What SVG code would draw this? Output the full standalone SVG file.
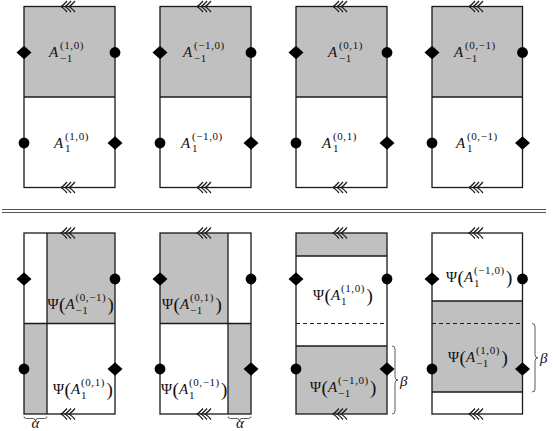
<svg xmlns="http://www.w3.org/2000/svg" xmlns:xlink="http://www.w3.org/1999/xlink" width="553" height="431" viewBox="0 0 553 431">
<defs>
<style>
.ln{stroke:#1a1a1a;stroke-width:1.3;fill:none}
.gr{fill:#c0c0c0}
.wh{fill:#fff}
.mk{fill:#000}
.m{font-family:"Liberation Serif","Times New Roman",serif;font-size:15px;fill:#111}
.i{font-style:italic}
.sc{font-family:"Liberation Serif","Times New Roman",serif;font-size:11px;fill:#111;letter-spacing:0.6px}
.bp{font-family:"Liberation Serif","Times New Roman",serif;font-size:19px;fill:#111}
.br{stroke:#333;stroke-width:0.8;fill:none}
.dash{stroke:#1a1a1a;stroke-width:1;stroke-dasharray:4 3;fill:none}
.sep{stroke:#555;stroke-width:1.1}
</style>
<path id="chev" fill="none" stroke="#1a1a1a" stroke-width="1.2" d="M-2.5-5.5Q-6.5-1-8.5 0Q-6.5 1-2.5 5.5M1.5-5.5Q-2.5-1-4.5 0Q-2.5 1 1.5 5.5M5.5-5.5Q1.5-1-0.5 0Q1.5 1 5.5 5.5"/>
<path id="dia" d="M-7.5 0L0-6.8L7.5 0L0 6.8Z" fill="#000"/>
<circle id="dot" r="5.4" fill="#000"/>
</defs>
<rect width="553" height="431" fill="#fff"/>

<!-- TOP ROW -->
<g id="top1">
<rect class="gr" x="24" y="6.5" width="91" height="90.5"/>
<rect class="ln" x="24" y="6.5" width="91" height="181"/>
<line class="ln" x1="24" y1="97" x2="115" y2="97"/>
<use xlink:href="#chev" x="69.5" y="6.5"/><use xlink:href="#chev" x="69.5" y="187.5"/>
<use xlink:href="#dia" x="24" y="52.5"/><use xlink:href="#dot" x="115" y="52.5"/>
<use xlink:href="#dot" x="24" y="143"/><use xlink:href="#dia" x="115" y="143"/>
<text class="m i" x="49" y="57">A</text><text class="sc" x="60" y="48.5">(1,0)</text><text class="sc" x="60" y="62">−1</text>
<text class="m i" x="54" y="148">A</text><text class="sc" x="65" y="139.5">(1,0)</text><text class="sc" x="65" y="152">1</text>
</g>
<g id="top2">
<rect class="gr" x="160" y="6.5" width="91" height="90.5"/>
<rect class="ln" x="160" y="6.5" width="91" height="181"/>
<line class="ln" x1="160" y1="97" x2="251" y2="97"/>
<use xlink:href="#chev" x="205.5" y="6.5"/><use xlink:href="#chev" x="205.5" y="187.5"/>
<use xlink:href="#dia" x="160" y="52.5"/><use xlink:href="#dot" x="251" y="52.5"/>
<use xlink:href="#dot" x="160" y="143"/><use xlink:href="#dia" x="251" y="143"/>
<text class="m i" x="183" y="57">A</text><text class="sc" x="194" y="48.5">(−1,0)</text><text class="sc" x="194" y="62">−1</text>
<text class="m i" x="181" y="148">A</text><text class="sc" x="192" y="139.5">(−1,0)</text><text class="sc" x="192" y="152">1</text>
</g>
<g id="top3">
<rect class="gr" x="296" y="6.5" width="91" height="90.5"/>
<rect class="ln" x="296" y="6.5" width="91" height="181"/>
<line class="ln" x1="296" y1="97" x2="387" y2="97"/>
<use xlink:href="#chev" x="341.5" y="6.5"/><use xlink:href="#chev" x="341.5" y="187.5"/>
<use xlink:href="#dia" x="296" y="52.5"/><use xlink:href="#dot" x="387" y="52.5"/>
<use xlink:href="#dot" x="296" y="143"/><use xlink:href="#dia" x="387" y="143"/>
<text class="m i" x="328" y="57">A</text><text class="sc" x="339" y="48.5">(0,1)</text><text class="sc" x="339" y="62">−1</text>
<text class="m i" x="322" y="148">A</text><text class="sc" x="333" y="139.5">(0,1)</text><text class="sc" x="333" y="152">1</text>
</g>
<g id="top4">
<rect class="gr" x="432" y="6.5" width="90.5" height="90.5"/>
<rect class="ln" x="432" y="6.5" width="90.5" height="181"/>
<line class="ln" x1="432" y1="97" x2="522.5" y2="97"/>
<use xlink:href="#chev" x="477.5" y="6.5"/><use xlink:href="#chev" x="477.5" y="187.5"/>
<use xlink:href="#dia" x="432" y="52.5"/><use xlink:href="#dot" x="522.5" y="52.5"/>
<use xlink:href="#dot" x="432" y="143"/><use xlink:href="#dia" x="522.5" y="143"/>
<text class="m i" x="454" y="57">A</text><text class="sc" x="465" y="48.5">(0,−1)</text><text class="sc" x="465" y="62">−1</text>
<text class="m i" x="456" y="148">A</text><text class="sc" x="467" y="139.5">(0,−1)</text><text class="sc" x="467" y="152">1</text>
</g>

<g id="separator">
<line class="sep" x1="2" y1="209.5" x2="546" y2="209.5"/>
<line class="sep" x1="2" y1="212.5" x2="546" y2="212.5"/>
</g>

<!-- BOTTOM ROW -->
<g id="bot1">
<rect class="gr" x="47" y="233" width="68" height="90.5"/>
<rect class="gr" x="24" y="323.5" width="23" height="90.5"/>
<rect class="ln" x="24" y="233" width="91" height="181"/>
<line class="ln" x1="24" y1="323.5" x2="115" y2="323.5"/>
<line class="ln" x1="47" y1="233" x2="47" y2="414"/>
<use xlink:href="#chev" x="69.5" y="233"/><use xlink:href="#chev" x="69.5" y="414"/>
<use xlink:href="#dia" x="24" y="279"/><use xlink:href="#dot" x="115" y="279"/>
<use xlink:href="#dot" x="24" y="369"/><use xlink:href="#dia" x="115" y="369"/>
<text class="m" x="47.5" y="309">Ψ</text><text class="bp" x="59" y="310.5">(</text><text class="m i" x="65.5" y="309">A</text><text class="sc" x="75.5" y="300.5">(0,−1)</text><text class="sc" x="75.5" y="314">−1</text><text class="bp" x="107.5" y="310.5">)</text>
<text class="m" x="53" y="394">Ψ</text><text class="bp" x="64.5" y="395.5">(</text><text class="m i" x="71" y="394">A</text><text class="sc" x="81" y="385.5">(0,1)</text><text class="sc" x="81" y="399">1</text><text class="bp" x="106.5" y="395.5">)</text>
<path class="br" d="M24 416.5Q24 418.5 26.5 418.5L33 418.5Q35.5 418.5 35.5 421Q35.5 418.5 38 418.5L44.5 418.5Q47 418.5 47 416.5"/>
<text class="m i" x="35.5" y="427.5" text-anchor="middle">α</text>
</g>
<g id="bot2">
<rect class="gr" x="160" y="233" width="68" height="90.5"/>
<rect class="gr" x="228" y="323.5" width="23" height="90.5"/>
<rect class="ln" x="160" y="233" width="91" height="181"/>
<line class="ln" x1="160" y1="323.5" x2="251" y2="323.5"/>
<line class="ln" x1="228" y1="233" x2="228" y2="414"/>
<use xlink:href="#chev" x="205.5" y="233"/><use xlink:href="#chev" x="205.5" y="414"/>
<use xlink:href="#dia" x="160" y="279"/><use xlink:href="#dot" x="251" y="279"/>
<use xlink:href="#dot" x="160" y="369"/><use xlink:href="#dia" x="251" y="369"/>
<text class="m" x="162" y="309">Ψ</text><text class="bp" x="173.5" y="310.5">(</text><text class="m i" x="180" y="309">A</text><text class="sc" x="190" y="300.5">(0,1)</text><text class="sc" x="190" y="314">−1</text><text class="bp" x="215.5" y="310.5">)</text>
<text class="m" x="161" y="394">Ψ</text><text class="bp" x="172.5" y="395.5">(</text><text class="m i" x="179" y="394">A</text><text class="sc" x="189" y="385.5">(0,−1)</text><text class="sc" x="189" y="399">1</text><text class="bp" x="221" y="395.5">)</text>
<path class="br" d="M228 416.5Q228 418.5 230.5 418.5L237 418.5Q239.5 418.5 239.5 421Q239.5 418.5 242 418.5L248.5 418.5Q251 418.5 251 416.5"/>
<text class="m i" x="240" y="427.5" text-anchor="middle">α</text>
</g>
<g id="bot3">
<rect class="gr" x="296" y="233" width="91" height="23"/>
<rect class="gr" x="296" y="346" width="91" height="68"/>
<rect class="ln" x="296" y="233" width="91" height="181"/>
<line class="ln" x1="296" y1="256" x2="387" y2="256"/>
<line class="ln" x1="296" y1="346" x2="387" y2="346"/>
<line class="dash" x1="296" y1="323.5" x2="387" y2="323.5"/>
<use xlink:href="#chev" x="341.5" y="233"/><use xlink:href="#chev" x="341.5" y="414"/>
<use xlink:href="#dia" x="296" y="279"/><use xlink:href="#dot" x="387" y="279"/>
<use xlink:href="#dot" x="296" y="369"/><use xlink:href="#dia" x="387" y="369"/>
<text class="m" x="313" y="300">Ψ</text><text class="bp" x="324.5" y="301.5">(</text><text class="m i" x="331" y="300">A</text><text class="sc" x="341" y="291.5">(1,0)</text><text class="sc" x="341" y="305">1</text><text class="bp" x="366.5" y="301.5">)</text>
<text class="m" x="310" y="392">Ψ</text><text class="bp" x="321.5" y="393.5">(</text><text class="m i" x="328" y="392">A</text><text class="sc" x="338" y="383.5">(−1,0)</text><text class="sc" x="338" y="397">−1</text><text class="bp" x="370" y="393.5">)</text>
<path class="br" d="M392 346Q395 346 395 349L395 377Q395 380 398 380Q395 380 395 383L395 411Q395 414 392 414"/>
<text class="m i" x="400" y="386">β</text>
</g>
<g id="bot4">
<rect class="gr" x="432" y="301" width="90.5" height="91"/>
<rect class="ln" x="432" y="233" width="90.5" height="181"/>
<line class="ln" x1="432" y1="301" x2="522.5" y2="301"/>
<line class="ln" x1="432" y1="392" x2="522.5" y2="392"/>
<line class="dash" x1="432" y1="323.5" x2="522.5" y2="323.5"/>
<use xlink:href="#chev" x="477.5" y="233"/><use xlink:href="#chev" x="477.5" y="414"/>
<use xlink:href="#dia" x="432" y="279"/><use xlink:href="#dot" x="522.5" y="279"/>
<use xlink:href="#dot" x="432" y="369"/><use xlink:href="#dia" x="522.5" y="369"/>
<text class="m" x="446" y="282">Ψ</text><text class="bp" x="457.5" y="283.5">(</text><text class="m i" x="464" y="282">A</text><text class="sc" x="474" y="273.5">(−1,0)</text><text class="sc" x="474" y="287">1</text><text class="bp" x="506" y="283.5">)</text>
<text class="m" x="448" y="362">Ψ</text><text class="bp" x="459.5" y="363.5">(</text><text class="m i" x="466" y="362">A</text><text class="sc" x="476" y="353.5">(1,0)</text><text class="sc" x="476" y="367">−1</text><text class="bp" x="501.5" y="363.5">)</text>
<path class="br" d="M532 323.5Q535 323.5 535 326.5L535 354.8Q535 357.8 538 357.8Q535 357.8 535 360.8L535 389Q535 392 532 392"/>
<text class="m i" x="540" y="363">β</text>
</g>
</svg>
